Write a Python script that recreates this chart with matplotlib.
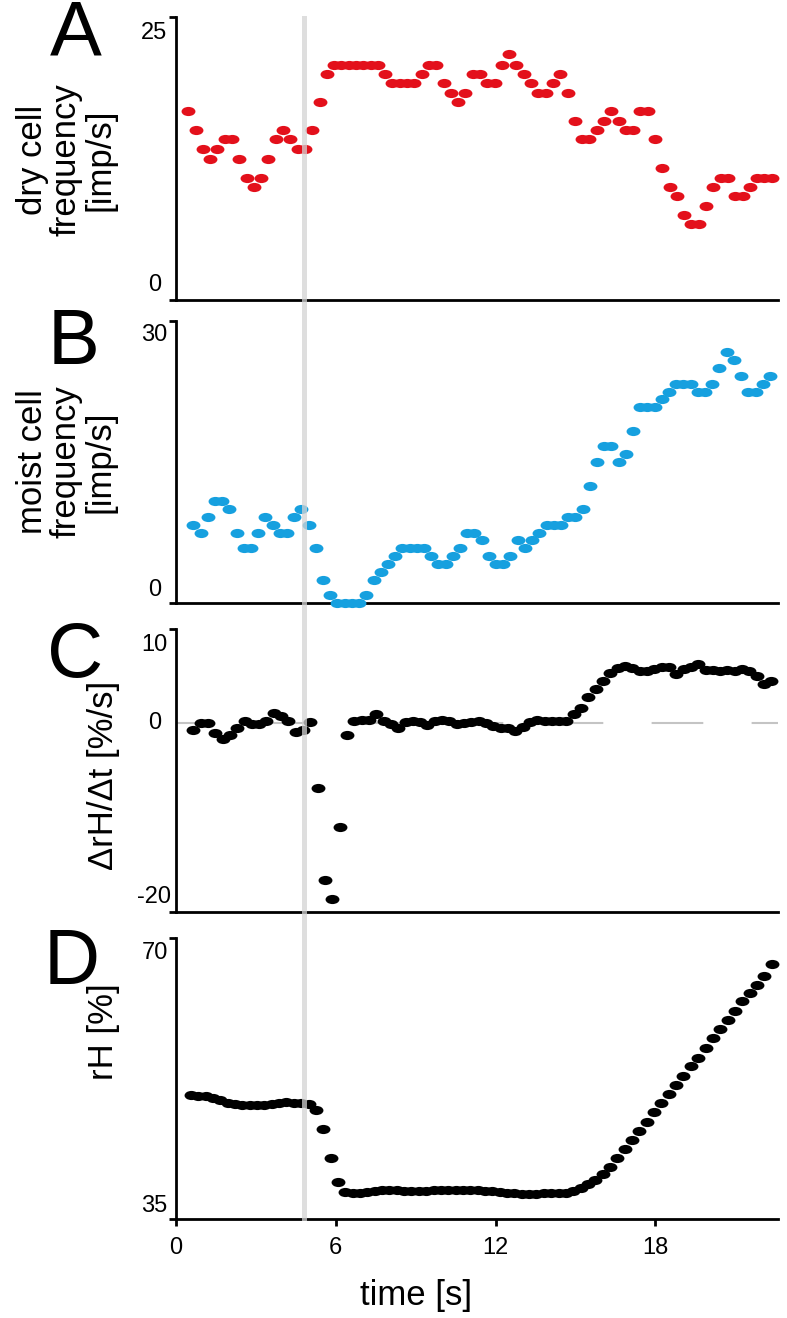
import numpy as np
import matplotlib
matplotlib.use('Agg')
import matplotlib.pyplot as plt
import matplotlib.transforms as mtransforms
from matplotlib.path import Path
from matplotlib.lines import Line2D

plt.rcParams['font.family'] = ['Liberation Sans', 'DejaVu Sans']

# dry cell frequency [imp/s], panel A
dry_freq = [16.7, 15.0, 13.3, 12.5, 13.3, 14.2, 14.2, 12.5, 10.8, 10.0,
            10.8, 12.5, 14.2, 15.0, 14.2, 13.3, 13.3, 15.0, 17.5, 20.0,
            20.8, 20.8, 20.8, 20.8, 20.8, 20.8, 20.8, 20.0, 19.2, 19.2,
            19.2, 19.2, 20.0, 20.8, 20.8, 19.2, 18.3, 17.5, 18.3, 20.0,
            20.0, 19.2, 19.2, 20.8, 21.7, 20.8, 20.0, 19.2, 18.3, 18.3,
            19.2, 20.0, 18.3, 15.8, 14.2, 14.2, 15.0, 15.8, 16.7, 15.8,
            15.0, 15.0, 16.7, 16.7, 14.2, 11.7, 10.0, 9.2, 7.5, 6.7,
            6.7, 8.3, 10.0, 10.8, 10.8, 9.2, 9.2, 10.0, 10.8, 10.8, 10.8]

# moist cell frequency [imp/s], panel B
moist_freq = [8.3, 7.5, 9.2, 10.8, 10.8, 10.0, 7.5, 5.8, 5.8, 7.5,
              9.2, 8.3, 7.5, 7.5, 9.2, 10.0, 8.3, 5.8, 2.5, 0.8,
              0.0, 0.0, 0.0, 0.0, 0.8, 2.5, 3.3, 4.2, 5.0, 5.8,
              5.8, 5.8, 5.8, 5.0, 4.2, 4.2, 5.0, 5.8, 7.5, 7.5,
              6.7, 5.0, 4.2, 4.2, 5.0, 6.7, 5.8, 6.7, 7.5, 8.3,
              8.3, 8.3, 9.2, 9.2, 10.0, 12.5, 15.0, 16.7, 16.7, 15.0,
              15.8, 18.3, 20.8, 20.8, 20.8, 21.7, 22.5, 23.3, 23.3, 23.3,
              22.5, 22.5, 23.3, 25.0, 26.7, 25.8, 24.2, 22.5, 22.5, 23.3, 24.2]

# rate of change of relative humidity [%/s], panel C
drh_dt = [-0.7, 0.0, 0.0, -1.0, -1.7, -1.2, -0.5, 0.2, -0.1, -0.1,
          0.2, 1.1, 0.8, 0.2, -0.9, -0.7, 0.1, -6.9, -16.6, -18.6,
          -11.0, -1.2, 0.2, 0.4, 0.4, 1.0, 0.3, -0.1, -0.5, 0.1,
          0.2, 0.1, -0.2, 0.2, 0.4, 0.2, -0.1, 0.0, 0.1, 0.2,
          0.0, -0.3, -0.5, -0.5, -0.8, -0.4, 0.1, 0.4, 0.3, 0.3,
          0.3, 0.3, 1.0, 1.6, 2.8, 3.6, 4.5, 5.3, 5.9, 6.1,
          5.9, 5.6, 5.6, 5.8, 6.0, 6.0, 5.2, 5.8, 6.0, 6.3,
          5.7, 5.7, 5.5, 5.7, 5.6, 5.8, 5.5, 5.0, 4.2, 4.5]

# relative humidity [%], panel D
rel_hum = [50.4, 50.3, 50.3, 50.1, 49.8, 49.5, 49.3, 49.2, 49.2, 49.2,
           49.2, 49.3, 49.5, 49.6, 49.5, 49.4, 49.3, 48.6, 46.2, 42.6,
           39.6, 38.4, 38.3, 38.3, 38.4, 38.5, 38.6, 38.6, 38.6, 38.5,
           38.5, 38.5, 38.5, 38.6, 38.6, 38.6, 38.6, 38.6, 38.6, 38.6,
           38.5, 38.5, 38.4, 38.3, 38.2, 38.1, 38.1, 38.1, 38.2, 38.2,
           38.3, 38.3, 38.5, 38.8, 39.3, 39.9, 40.6, 41.5, 42.6, 43.7,
           44.8, 46.0, 47.1, 48.3, 49.4, 50.6, 51.7, 52.8, 54.0, 55.1,
           56.3, 57.5, 58.7, 59.8, 60.9, 62.1, 63.1, 64.2, 65.3, 66.8]

# sampling: (first sample time, interval) in s
t_dry = (0.46, 0.2738)
t_moist = (0.65, 0.2706)
t_drh = (0.65, 0.2747)
t_rh = (0.56, 0.2760)

stim_time = 4.8
x_ticks = [0, 6, 12, 18]

W, H = 787, 1318


def box(left, top, right, bottom):
    return [left / W, 1 - bottom / H, (right - left) / W, (bottom - top) / H]


def times(spec, n):
    return spec[0] + spec[1] * np.arange(n)


oval = Path.unit_circle().transformed(mtransforms.Affine2D().scale(1.0, 0.66))

fig = plt.figure(figsize=(W / 100, H / 100), dpi=100)

panels = [
    # letter, data, timing, colour, ylim, box(px), tick labels (value, dy px), ylabel, label pos
    ('A', dry_freq, t_dry, '#e3101b', (0, 25), (176, 17, 778, 300),
     [(25, -16), (0, 15)], 'dry cell\nfrequency\n[imp/s]', (66, 160)),
    ('B', moist_freq, t_moist, '#16a0df', (0, 30), (176, 321, 778, 603),
     [(30, -14), (0, 13)], 'moist cell\nfrequency\n[imp/s]', (66, 462)),
    ('C', drh_dt, t_drh, 'black', (-20, 10), (176, 629, 778, 912),
     [(10, -16), (0, 0), (-20, 15)], '\u0394rH/\u0394t [%/s]', (103, 775)),
    ('D', rel_hum, t_rh, 'black', (35, 70), (176, 938, 778, 1219),
     [(70, -15), (35, 13)], 'rH [%]', (104, 1032)),
]
letter_pos = {'A': (76, 35), 'B': (74, 343), 'C': (75, 657), 'D': (72, 964)}

axes = []
for letter, vals, tspec, col, ylim, px, tlabels, ylab, lpos in panels:
    ax = fig.add_axes(box(*px))
    t = times(tspec, len(vals))
    ax.plot(t, vals, linestyle='none', marker=oval, markersize=10,
            color=col, markeredgewidth=0, clip_on=False, zorder=3)
    ax.set_xlim(0, 22.6)
    ax.set_ylim(*ylim)
    for s in ['top', 'right']:
        ax.spines[s].set_visible(False)
    for s in ['left', 'bottom']:
        ax.spines[s].set_linewidth(2)
    ax.set_yticks(list(ylim))
    ax.set_yticklabels([])
    ax.tick_params(axis='y', length=5, width=2, direction='out')
    for v, dy in tlabels:
        ax.annotate(str(v), xy=(0, v), xycoords=('axes fraction', 'data'),
                    xytext=(-15.5, dy * 0.72), textcoords='offset points',
                    ha='center', va='center', fontsize=17)
    fig.text(lpos[0] / W, 1 - lpos[1] / H, ylab, rotation=90, ha='center',
             va='center', multialignment='center', fontsize=25, linespacing=1.02)
    lx, ly = letter_pos[letter]
    fig.text(lx / W, 1 - ly / H, letter, ha='center', va='center', fontsize=56)
    axes.append(ax)

# zero line in panel C
axes[2].axhline(0, color='#c4c4c4', lw=1.5, linestyle=(11.7, (24.8, 23.2)), zorder=1)

# x axis only on bottom panel
for ax in axes[:3]:
    ax.set_xticks([])
axes[3].set_xticks(x_ticks)
axes[3].set_xticklabels([str(v) for v in x_ticks], fontsize=17)
axes[3].tick_params(axis='x', length=5, width=2, direction='out', pad=8)
fig.text(416 / W, 1 - 1296 / H, 'time [s]', ha='center', va='center', fontsize=25)

# stimulus marker across all panels
trans = mtransforms.blended_transform_factory(axes[0].transData, fig.transFigure)
fig.add_artist(Line2D([stim_time, stim_time], [1 - 18 / H, 1 - 1218 / H],
                      transform=trans, color='#d4d4d4', lw=3.6, alpha=0.75, zorder=5))

fig.savefig('out.png', dpi=100)
